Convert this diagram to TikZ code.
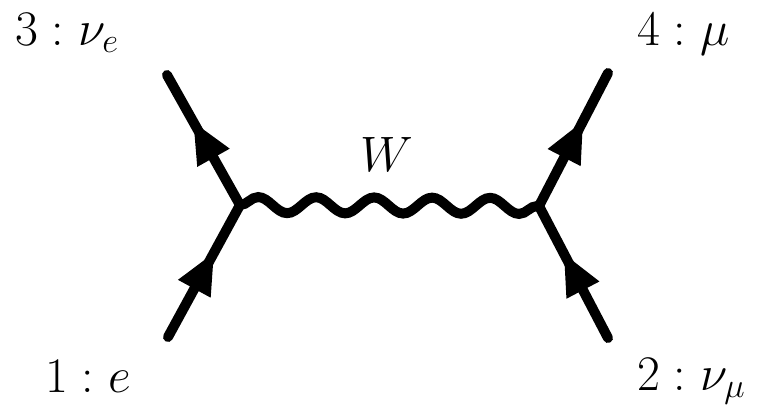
\documentclass[tikz,border=0pt]{standalone}
\usetikzlibrary{decorations.pathmorphing,decorations.markings,arrows.meta}
\begin{document}
\begin{tikzpicture}[x=0.5pt,y=-0.5pt,
  fermion/.style={line width=5pt,line cap=round,
    postaction={decorate},
    decoration={markings,mark=at position 0.645 with {\arrow{Triangle[length=21pt,width=17pt]}}}},
  photon/.style={line width=5pt,decorate,
    decoration={snake,amplitude=4pt,segment length=29pt}},
  lbl/.style={inner sep=0pt,font=\fontsize{26.5}{32}\selectfont}]
\useasboundingbox (0,0) rectangle (766,407);
\coordinate (p1) at (168,337);
\coordinate (p3) at (167,75);
\coordinate (v1) at (240,205);
\coordinate (v2) at (539,206);
\coordinate (p4) at (608,73);
\coordinate (p2) at (608,338);
\draw[fermion] (p1) -- (v1);
\draw[fermion] (v1) -- (p3);
\draw[fermion] (p2) -- (v2);
\draw[fermion] (v2) -- (p4);
\draw[photon] (v1) -- (v2);
\node[lbl,anchor=base west] (l3) at (15,45) {$3:\nu_e$};
\node[lbl,anchor=base west] (l1) at (45,392) {$1:e$};
\node[lbl,anchor=base west] (l4) at (637,45) {$4:\mu$};
\node[lbl,anchor=base west] (l2) at (637,390) {$2:\nu_\mu$};
\node[lbl,anchor=base] (w) at (387,171) {$W$};
\end{tikzpicture}
\end{document}
